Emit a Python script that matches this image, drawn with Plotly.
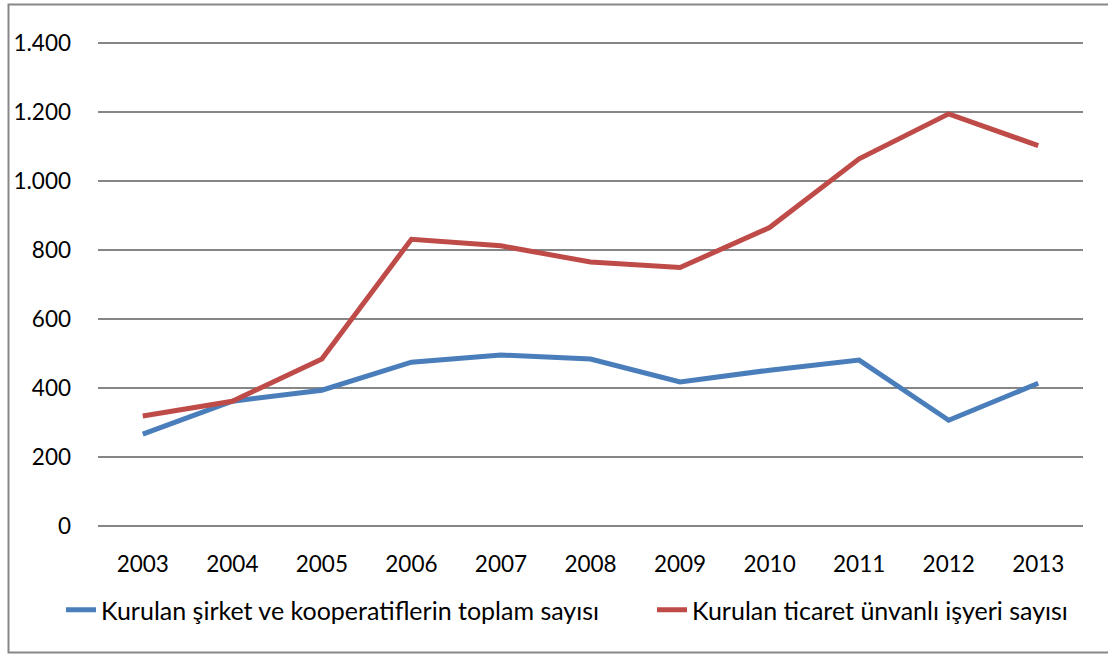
import plotly.graph_objects as go

years = ["2003", "2004", "2005", "2006", "2007", "2008", "2009", "2010", "2011", "2012", "2013"]
sirket = [267, 362, 394, 475, 496, 484, 418, 452, 481, 307, 414]
ticaret = [319, 362, 484, 831, 812, 765, 749, 865, 1064, 1194, 1102]
name_sirket = "Kurulan şirket ve kooperatiflerin toplam sayısı"
name_ticaret = "Kurulan ticaret ünvanlı işyeri sayısı"
y_ticks = [0, 200, 400, 600, 800, 1000, 1200, 1400]

W, H = 1108, 655
L, R, T, B = 98, 25, 41, 127
pw, ph = W - L - R, H - T - B

def px_x(p):
    return (p - L) / pw

def px_y(p):
    return (H - B - p) / ph

tick_font = dict(family="Lato, 'Open Sans', sans-serif", size=22.5, color="#000000")
leg_font = dict(family="Lato, 'Open Sans', sans-serif", size=25, color="#000000")

fig = go.Figure()
fig.add_trace(go.Scatter(x=years, y=sirket, mode="lines", name=name_sirket,
                         line=dict(color="#4A7EBB", width=5), legend="legend"))
fig.add_trace(go.Scatter(x=years, y=ticaret, mode="lines", name=name_ticaret,
                         line=dict(color="#BE4B48", width=5), legend="legend2"))

fig.add_shape(type="rect", xref="paper", yref="paper",
              x0=px_x(8.5), x1=px_x(1115), y0=px_y(652.5), y1=px_y(4.5),
              line=dict(color="#878787", width=2), fillcolor="rgba(0,0,0,0)", layer="below")

leg_common = dict(orientation="h", xanchor="left", yanchor="middle", y=px_y(610),
                  font=leg_font, bgcolor="rgba(0,0,0,0)", borderwidth=0)

fig.update_layout(
    width=W, height=H,
    margin=dict(l=L, r=R, t=T, b=B, autoexpand=False),
    paper_bgcolor="white", plot_bgcolor="white",
    font=tick_font,
    separators=",.",
    showlegend=True,
    legend=dict(x=px_x(61), **leg_common),
    legend2=dict(x=px_x(652), **leg_common),
    xaxis=dict(type="category", range=[-0.5, 10.5], showgrid=False, zeroline=False,
               showline=False, ticks="", tickfont=tick_font, ticklabelstandoff=20),
    yaxis=dict(range=[-5, 1405], tickvals=y_ticks, tickformat=",d", showgrid=True,
               gridcolor="#868686", gridwidth=1.5, zeroline=False, showline=False,
               ticks="", tickfont=tick_font, ticklabelstandoff=26),
)

fig.write_html("out.html", config={"displayModeBar": False},
               post_script="document.body.style.margin='0';document.body.style.overflow='hidden';")
